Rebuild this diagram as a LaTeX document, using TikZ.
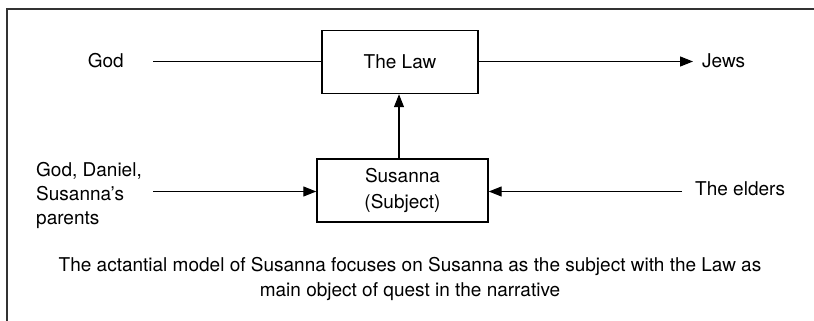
\documentclass[tikz,border=0pt]{standalone}
\usepackage{fontspec}
\setmainfont{TeX Gyre Heros}
\usetikzlibrary{arrows.meta}
\begin{document}
\begin{tikzpicture}[x=1pt,y=-1pt,
  every node/.style={font=\fontsize{19}{24}\selectfont, inner sep=0pt},
  box/.style={draw, line width=1.4pt, minimum width=#1, minimum height=63pt},
  conn/.style={line width=1.2pt},
  arr/.style={conn, -{Triangle[length=13pt,width=10pt]}}]
\useasboundingbox (0,0) rectangle (814,321);
\draw[line width=1.8pt, black!80] (814,9) -- (7,9) -- (7,321);
\node[box=156pt] (law) at (400,62) {The Law};
\node[box=171pt, align=center, font=\fontsize{19}{26}\selectfont] (sub) at (402.5,190.5) {Susanna\\(Subject)};
\node[anchor=east] (god) at (124,61) {God};
\node[anchor=west] (jews) at (702,61) {Jews};
\node[anchor=west, align=left] (help) at (36,195) {God, Daniel,\\Susanna’s\\parents};
\node[anchor=west] (eld) at (695,188.5) {The elders};
\coordinate (gs) at (153,61.5);
\coordinate (hs) at (153,191.5);
\coordinate (es) at (682,191.5);
\draw[conn] (gs) -- (gs -| law.west);
\draw[arr] (gs -| law.east) -- (gs -| 693,0);
\draw[arr] ([xshift=-1pt]sub.north -| law.south) -- ([xshift=-1pt]law.south);
\draw[arr] (hs) -- (hs -| sub.west);
\draw[arr] (es) -- (es -| sub.east);
\node[align=center, font=\fontsize{19}{25}\selectfont] (cap) at (410,279) {The actantial model of Susanna focuses on Susanna as the subject with the Law as\\main object of quest in the narrative};
\end{tikzpicture}
\end{document}
